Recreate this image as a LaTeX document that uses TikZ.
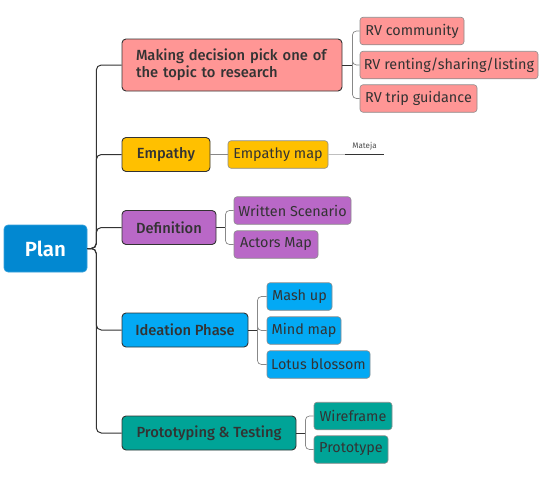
\documentclass[tikz,border=0pt]{standalone}
\usepackage{fontspec}
\setmainfont{Fira Sans}[BoldFont={Fira Sans Medium}]
\newfontfamily\plainbold{Fira Sans SemiBold}
\definecolor{txt}{HTML}{333333}
\definecolor{pinkc}{HTML}{FF9695}
\definecolor{goldc}{HTML}{FFC000}
\definecolor{purpc}{HTML}{B968C7}
\definecolor{bluec}{HTML}{03A9F4}
\definecolor{tealc}{HTML}{00A497}
\definecolor{planc}{HTML}{0288D1}
\definecolor{edgec}{HTML}{333333}
\definecolor{subedge}{HTML}{888888}
\tikzset{
  topic/.style={draw=edgec, line width=0.9pt, rounded corners=4pt, text=txt,
    font=\bfseries\fontsize{14.7}{17}\selectfont, inner sep=0pt, minimum height=34pt},
  subt/.style={draw=black!45, line width=0.6pt, rounded corners=3pt, text=txt,
    font=\fontsize{14.4}{16}\selectfont, inner sep=0pt, minimum height=27.5pt},
  trunk/.style={draw=edgec, line width=1pt, rounded corners=5pt},
  twig/.style={draw=subedge, line width=0.7pt, rounded corners=4pt},
  stem/.style={draw=edgec, line width=0.9pt}
}
\begin{document}
\begin{tikzpicture}[x=1pt,y=-1pt]
\useasboundingbox (0,0) rectangle (558,482);
% root
\node[draw=planc!80!white, line width=0.6pt, fill=planc, rounded corners=4pt, text=white,
  font=\plainbold\fontsize{20.5}{22}\selectfont, minimum width=83pt, minimum height=47pt, inner sep=0pt]
  (plan) at (45.5,248.5) {Plan};
% main topics
\node[topic, fill=pinkc, minimum width=220pt, minimum height=52pt, align=left, text width=192pt]
  (dec) at (232,65) {Making decision pick one of\\the topic to research};
\node[topic, fill=goldc, minimum width=88pt] (emp) at (166,154.5) {Empathy};
\node[topic, fill=purpc, minimum width=94pt] (def) at (169,227.5) {Definition};
\node[topic, fill=bluec, minimum width=126pt] (ide) at (185,330) {Ideation Phase};
\node[topic, fill=tealc, minimum width=174pt] (pro) at (209,433) {Prototyping \& Testing};
% subtopics
\node[subt, fill=pinkc, minimum width=104pt] (rv1) at (412,31) {RV community};
\node[subt, fill=pinkc, minimum width=178pt] (rv2) at (449,65) {RV renting/sharing/listing};
\node[subt, fill=pinkc, minimum width=117pt] (rv3) at (418.5,98.5) {RV trip guidance};
\node[subt, fill=goldc, minimum width=100pt] (emap) at (278,154.5) {Empathy map};
\node[subt, fill=purpc, minimum width=117pt] (ws) at (292.5,210.5) {Written Scenario};
\node[subt, fill=purpc, minimum width=84pt] (am) at (276,244.5) {Actors Map};
\node[subt, fill=bluec, minimum width=65pt] (mash) at (299.5,296.5) {Mash up};
\node[subt, fill=bluec, minimum width=74pt] (mind) at (304,330.5) {Mind map};
\node[subt, fill=bluec, minimum width=103pt] (lotus) at (318.5,364.5) {Lotus blossom};
\node[subt, fill=tealc, minimum width=78pt] (wire) at (353,416) {Wireframe};
\node[subt, fill=tealc, minimum width=74pt] (proto) at (351,449.5) {Prototype};
% trunk connectors
\foreach \c in {dec,emp,def,ide,pro}{
  \draw[trunk] (plan.east) -- ++(9,0) |- (\c.west);
}
% sub connectors
\coordinate (jdec) at ([xshift=10pt]dec.east);
\draw[stem] (dec.east) -- (jdec);
\foreach \c in {rv1,rv2,rv3}{ \draw[twig] (jdec) |- (\c.west); }
\draw[twig] (emp.east) -- (emap.west);
\coordinate (jdef) at ([xshift=9pt]def.east);
\draw[stem] (def.east) -- (jdef);
\foreach \c in {ws,am}{ \draw[twig] (jdef) |- (\c.west); }
\coordinate (jide) at ([xshift=9pt]ide.east);
\draw[stem] (ide.east) -- (jide);
\foreach \c in {mash,mind,lotus}{ \draw[twig] (jide) |- (\c.west); }
\coordinate (jpro) at ([xshift=9pt]pro.east);
\draw[stem] (pro.east) -- (jpro);
\foreach \c in {wire,proto}{ \draw[twig] (jpro) |- (\c.west); }
% Mateja label
\coordinate (mmid) at (345,154.5);
\coordinate (mend) at (384,154.5);
\draw[draw=black!25, line width=0.8pt] (emap.east) -- (mmid);
\draw[draw=edgec, line width=0.8pt] (mmid) -- (mend);
\node[font=\fontsize{8}{9}\selectfont, text=black!70, anchor=south, inner sep=1pt] (mat) at (364.5,151) {Mateja};
\end{tikzpicture}
\end{document}
